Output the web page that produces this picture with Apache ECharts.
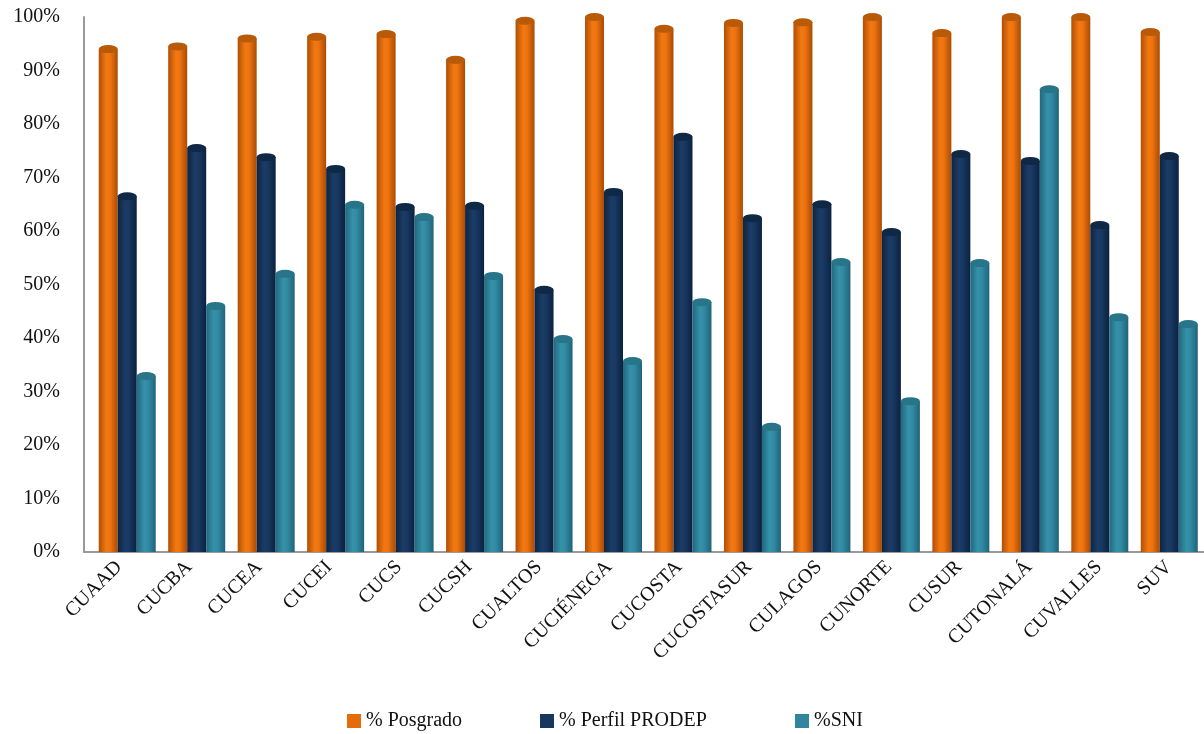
<!DOCTYPE html>
<html><head><meta charset="utf-8">
<script src="https://cdn.jsdelivr.net/npm/echarts@6/dist/echarts.min.js"></script>
<style>html,body{margin:0;padding:0;background:#fff}#c{width:1204px;height:734px}</style>
</head><body><div id="c"></div>
<script>
const categories = ['CUAAD','CUCBA','CUCEA','CUCEI','CUCS','CUCSH','CUALTOS','CUCIÉNEGA','CUCOSTA','CUCOSTASUR','CULAGOS','CUNORTE','CUSUR','CUTONALÁ','CUVALLES','SUV'];
const posgrado = [94, 94.5, 96, 96.3, 96.8, 92, 99.3, 100, 97.8, 98.9, 99, 100, 97, 100, 100, 97.2];
const prodep   = [66.5, 75.5, 73.8, 71.6, 64.5, 64.7, 49, 67.3, 77.6, 62.4, 65, 59.8, 74.4, 73.1, 61.1, 74];
const sni      = [32.9, 46, 52, 64.9, 62.6, 51.6, 39.8, 35.7, 46.7, 23.4, 54.2, 28.2, 54, 86.5, 43.9, 42.6];
const yTicks   = [0, 10, 20, 30, 40, 50, 60, 70, 80, 90, 100];
const seriesNames = ['% Posgrado', '% Perfil PRODEP', '%SNI'];

const FONT = 'Liberation Serif';
const solid = ['#E46C0A', '#17375E', '#31859C'];
const grads = [
  ['#B04F04', '#F27812', '#EE7410', '#A94B04'],
  ['#0E2442', '#1B3C66', '#183860', '#0C2140'],
  ['#22687D', '#3592AA', '#318BA2', '#20637A']
];
const caps = ['#B85A08', '#0F2845', '#287488'];
function grad(c){return {type:'linear',x:0,y:0,x2:1,y2:0,colorStops:[{offset:0,color:c[0]},{offset:0.4,color:c[1]},{offset:0.6,color:c[2]},{offset:1,color:c[3]}]};}
const dataSets = [posgrado, prodep, sni];

const series = [];
dataSets.forEach((d,i)=>{
  series.push({type:'bar', name:seriesNames[i], data:d, xAxisIndex:1, yAxisIndex:1,
    barWidth:19, barGap:'0%', itemStyle:{color:grad(grads[i])}});
});
dataSets.forEach((d,i)=>{
  series.push({type:'pictorialBar', name:'cap'+i, data:d, xAxisIndex:1, yAxisIndex:1,
    barWidth:19, barGap:'0%', symbol:'circle', symbolSize:[19,8], symbolPosition:'end',
    symbolOffset:[0,'-50%'], itemStyle:{color:caps[i]}, z:3});
});

const legendLefts = [342, 535, 790];
const legends = seriesNames.map((n,i)=>({
  left: legendLefts[i], top: 706, icon:'rect', itemWidth:14, itemHeight:14, itemGap:5,
  data:[{name:n, itemStyle:{color:solid[i]}}],
  textStyle:{fontFamily:FONT, fontSize:20, color:'#111'}
}));

const chart = echarts.init(document.getElementById('c'));
chart.setOption({
  animation:false,
  backgroundColor:'#fff',
  legend: legends,
  grid:[
    {left:84, top:17, width:1124, height:535},
    {left:92.5, top:17, width:1124, height:535}
  ],
  xAxis:[
    {type:'category', gridIndex:0, data:categories,
     axisLine:{lineStyle:{color:'#9a9a9a', width:2}},
     axisTick:{length:6, lineStyle:{color:'#9a9a9a', width:2}},
     axisLabel:{rotate:45, interval:0, margin:12, fontFamily:FONT, fontSize:20, color:'#111'}},
    {type:'category', gridIndex:1, data:categories, show:false}
  ],
  yAxis:[
    {type:'value', gridIndex:0, min:0, max:100, interval:10,
     axisLine:{show:true, lineStyle:{color:'#9a9a9a', width:2}},
     axisTick:{show:false}, splitLine:{show:false},
     axisLabel:{formatter: v => yTicks.includes(v) ? v + '%' : '', margin:24, fontFamily:FONT, fontSize:20, color:'#111'}},
    {type:'value', gridIndex:1, min:0, max:100, interval:10, show:false, splitLine:{show:false}}
  ],
  series: series
});
</script></body></html>
